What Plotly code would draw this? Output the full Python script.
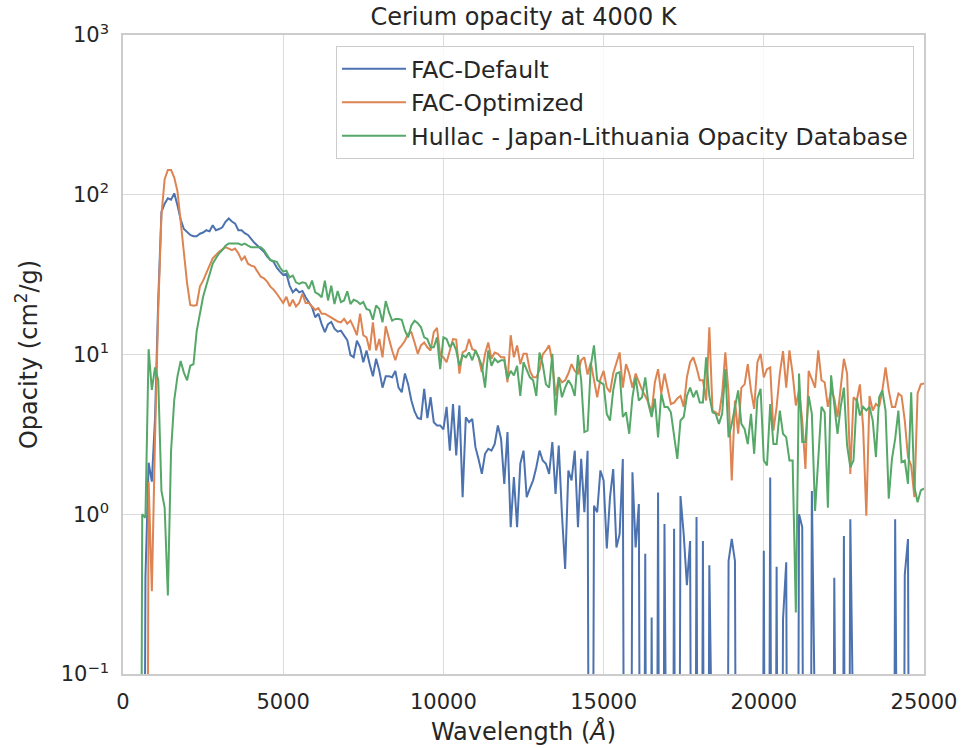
import plotly.graph_objects as go

# Bins where the opacity is zero; kept positive so the log axis can draw them
EMPTY = 1e-6

# Wavelength grid in Angstrom (500 to 25000, 100 A bins)
wavelength = list(range(500, 25001, 100))

fac_default = [
    EMPTY, EMPTY, 0.4, 2.1, 1.6,
    4, 22, 78, 88, 95, 93, 102, 86, 70, 61,
    58, 56, 55, 55, 57, 58, 60, 59, 64.5, 60,
    61, 62.5, 67.7, 71, 68, 66, 60, 60, 57.5, 56,
    53, 50, 48, 46, 44, 41, 39, 38, 35, 33,
    31.5, 32, 27, 24.5, 25.7, 24.5, 25, 22.8, 21.3, 19.8,
    17.1, 18, 15.5, 13.8, 15.5, 16, 14.5, 13.9, 14.1, 13.2,
    12.3, 9.9, 9.6, 12.2, 11.1, 8.95, 10.6, 8.7, 7.3, 9.4,
    7.9, 6.2, 7.3, 7.3, 7.2, 7.9, 6.2, 5.8, 7.6, 6.5,
    5.15, 4.4, 4.0, 3.95, 6.1, 4.0, 5.4, 3.77, 3.6, 3.6,
    3.4, 4.7, 2.5, 4.9, 2.33, 4.8, 1.28, 4.05, 3.77, 3.95,
    2.63, 2.2, 1.79, 2.39, 2.57, 2.5, 2.75, 3.6, 2.96, 1.55,
    3.27, 0.83, 1.71, 0.83, 2.07, 2.5, 1.28, 1.45, 1.63, 1.97,
    2.5, 2.17, 2.07, 1.79, 2.83, 1.34, 2.69, 1.0, 0.455, 1.88,
    1.63, 2.5, 0.83, 2.22, 1.03, 2.5, EMPTY, 1.13, 1.03, 1.88,
    1.63, 0.61, 1.28, 1.92, 0.62, 0.75, 2.22, EMPTY, EMPTY, 1.83,
    0.62, 1.16, EMPTY, 0.565, EMPTY, 0.226, EMPTY, 1.37, EMPTY, 0.87,
    EMPTY, EMPTY, 0.81, EMPTY, 1.3, 0.75, 0.36, 0.68, EMPTY, 0.96,
    EMPTY, 0.68, EMPTY, 0.48, EMPTY, EMPTY, EMPTY, EMPTY, EMPTY, 0.51,
    0.70, 0.51, EMPTY, EMPTY, EMPTY, EMPTY, EMPTY, EMPTY, EMPTY, EMPTY,
    0.59, EMPTY, 1.7, EMPTY, 0.47, EMPTY, 0.22, 0.5, EMPTY, EMPTY,
    EMPTY, 1.0, 0.83, EMPTY, EMPTY, 1.4, EMPTY, EMPTY, EMPTY, EMPTY,
    EMPTY, EMPTY, 0.40, EMPTY, EMPTY, 0.73, EMPTY, 0.93, EMPTY, EMPTY,
    EMPTY, EMPTY, EMPTY, EMPTY, EMPTY, EMPTY, EMPTY, EMPTY, EMPTY, EMPTY,
    EMPTY, 0.93, EMPTY, EMPTY, 0.42, 0.70, EMPTY, EMPTY, EMPTY, EMPTY,
    EMPTY,
]

fac_optimized = [
    EMPTY, EMPTY, EMPTY, 1.6, 0.33,
    3, 19, 75, 125, 143, 143, 128, 105, 68, 42,
    28, 20.4, 20.2, 20.4, 26.6, 29, 32, 36, 40, 42,
    44, 45.5, 47, 46, 45, 46, 43, 39, 41, 37,
    36, 35.5, 33, 30.7, 30, 28.6, 26.6, 25.5, 24, 22.5,
    21, 23, 20, 22, 20, 21, 24, 21, 21, 20,
    19, 19.5, 18, 18, 17.5, 17, 16.5, 16.1, 15.9, 16.7,
    15.6, 16.3, 14.8, 13.2, 18, 13.2, 12.8, 10.6, 15.9, 10.6,
    12.5, 9.6, 15, 12.5, 10.6, 9.2, 10.8, 11.4, 12.2, 13.5,
    13.8, 11.9, 10.1, 11.4, 11.9, 11.1, 10.6, 13.8, 14.7, 9.9,
    9.6, 8.95, 10.8, 12.5, 12.4, 7.6, 10.3, 10.6, 12.5, 10.8,
    10.6, 9.6, 7.75, 10.1, 11.9, 9.4, 10.3, 10.1, 9.6, 9.6,
    6.7, 13.2, 9.6, 11.4, 8.7, 10.1, 10.1, 7.9, 7.2, 7.2,
    8.0, 10, 10.6, 11.4, 9, 5.5, 7.2, 6.7, 6.9, 7.6,
    8.7, 7.9, 7.6, 9.2, 9.6, 7.5, 8.9, 6.9, 5.4, 7.0,
    7.9, 6.2, 5.8, 7.6, 8.95, 10.3, 6.2, 8.7, 7.6, 6.2,
    7.6, 6.7, 6.0, 5.5, 5.0, 4.35, 6.7, 8.1, 5.7, 7.6,
    5.96, 4.9, 5.0, 5.3, 5.5, 4.7, 7.2, 8.95, 9.6, 8.3,
    6.9, 6.9, 5.15, 14.8, 4.46, 4.35, 4.15, 5.7, 10.3, 5.7,
    1.63, 5.15, 3.19, 6.2, 6.5, 8.7, 5.96, 4.57, 8.95, 10.1,
    7.2, 8.1, 8.3, 3.34, 4.7, 7.6, 10.5, 6.2, 10.6, 7.6,
    4.8, 5.96, 3.86, 1.92, 7.9, 6.9, 6.2, 10.6, 6.9, 6.7,
    4.7, 5.96, 5.3, 4.06, 6.1, 9.4, 7.6, 1.79, 5.4, 5.15,
    6.5, 3.5, 0.98, 5.5, 4.46, 4.9, 4.7, 5.96, 8.3, 5.96,
    4.7, 4.7, 5.7, 5.5, 3.86, 2.28, 2.02, 1.28, 5.7, 6.5,
    6.6,
]

hullac = [
    EMPTY, 1.0, 0.95, 10.8, 6.0,
    8.3, 6.9, 1.4, 1.1, 0.31, 2.5, 5.2, 7.3, 9.1, 7.7,
    6.9, 8.5, 8.7, 14, 18, 23, 27, 32, 37, 40,
    43, 45, 48, 49.5, 49.5, 49.5, 49.5, 48.5, 49.5, 48,
    47, 47, 47, 47, 45, 42, 39, 38.5, 38, 35,
    33, 33.5, 30.4, 31.2, 28.3, 27.7, 28.3, 28, 25.7, 29,
    24.5, 23.9, 22.8, 29, 21.8, 27, 20.7, 25, 21.3, 21.8,
    24.9, 20.7, 22, 21.6, 20.7, 21.3, 19.3, 18.9, 16.5, 20.3,
    19.3, 15.9, 21.6, 18.4, 16.3, 16.7, 16.7, 16.5, 14.1, 12.8,
    15.2, 16.3, 15.7, 14.8, 12.8, 12.5, 11.1, 11.1, 12.8, 8.1,
    12.8, 12.5, 11.1, 11.9, 10.6, 8.5, 9.9, 9.6, 10.3, 9.2,
    10.6, 9.6, 8.5, 6.2, 10.6, 8.5, 9.4, 8.95, 9.2, 9.2,
    7.05, 7.9, 7.4, 8.5, 5.5, 8.95, 8.0, 7.2, 6.9, 5.5,
    10.3, 8.7, 6.5, 6.2, 10.1, 4.15, 7.2, 5.4, 6.2, 6.9,
    6.4, 5.5, 9.9, 6.9, 3.27, 3.34, 8.5, 11.4, 6.9, 6.7,
    6.5, 4.25, 3.86, 5.96, 7.6, 7.75, 4.06, 4.35, 3.19, 5.4,
    7.2, 5.15, 5.4, 7.2, 4.9, 4.06, 5.3, 3.03, 5.7, 4.7,
    4.7, 4.35, 3.03, 2.22, 3.86, 4.06, 5.5, 6.2, 5.4, 5.96,
    5.0, 5.0, 9.6, 5.5, 4.35, 4.25, 3.68, 4.25, 8.1, 3.03,
    3.68, 4.7, 5.96, 3.68, 3.42, 2.75, 4.25, 2.39, 5.3, 6.1,
    2.17, 2.02, 4.9, 2.75, 2.75, 4.46, 3.19, 3.03, 2.17, 2.17,
    0.243, 7.6, 2.83, 2.83, 5.5, 4.25, 1.05, 2.22, 4.7, 4.35,
    1.1, 7.4, 4.9, 3.19, 4.7, 6.2, 2.69, 1.97, 2.17, 5.3,
    4.15, 4.7, 4.46, 4.7, 3.86, 2.28, 5.4, 5.96, 4.46, 1.25,
    2.22, 2.96, 4.46, 2.12, 2.17, 1.55, 5.8, 1.48, 1.19, 1.41,
    1.45,
]

series_names = ["FAC-Default", "FAC-Optimized", "Hullac - Japan-Lithuania Opacity Database"]
series_values = [fac_default, fac_optimized, hullac]
series_colors = ["#4c72b0", "#dd8452", "#55a868"]

x_ticks = [0, 5000, 10000, 15000, 20000, 25000]
x_tick_labels = ["0", "5000", "10000", "15000", "20000", "25000"]
y_ticks = [0.1, 1, 10, 100, 1000]
y_tick_labels = ["10<sup>\u22121</sup>", "10<sup>0</sup>", "10<sup>1</sup>",
                 "10<sup>2</sup>", "10<sup>3</sup>"]

fig = go.Figure()
for name, values, color in zip(series_names, series_values, series_colors):
    fig.add_trace(go.Scatter(
        x=wavelength, y=values, mode="lines", name=name,
        line=dict(color=color, width=2),
    ))

text_color = "#262626"
grid_color = "#dcdcdc"
frame_color = "#cccccc"

fig.update_layout(
    width=978, height=748,
    margin=dict(l=123, r=54, t=35, b=74),
    paper_bgcolor="white", plot_bgcolor="white",
    font=dict(family="DejaVu Sans", size=21, color=text_color),
    title=dict(text="Cerium opacity at 4000 K", x=(123 + 924) / 2 / 978, xanchor="center",
               y=1 - 17 / 748, yref="container", yanchor="middle",
               font=dict(size=24, color=text_color)),
    legend=dict(x=0.9875, y=0.983, xanchor="right", yanchor="top",
                bgcolor="rgba(255,255,255,0.8)", bordercolor=frame_color, borderwidth=1,
                itemwidth=64,
                font=dict(size=23.5, color=text_color)),
    showlegend=True,
)

fig.update_xaxes(
    range=[0, 25000], tickmode="array", tickvals=x_ticks, ticktext=x_tick_labels,
    showgrid=True, gridcolor=grid_color, gridwidth=1,
    showline=True, linecolor=frame_color, linewidth=1.5, mirror=True, zeroline=False,
    ticks="outside", ticklen=8, tickcolor="rgba(0,0,0,0)",
    tickfont=dict(size=21, color=text_color),
    title=dict(text="Wavelength (<i>Å</i>)", font=dict(size=24, color=text_color), standoff=10),
    automargin=False,
)
fig.update_yaxes(
    type="log", range=[-1, 3], tickmode="array", tickvals=y_ticks, ticktext=y_tick_labels,
    showgrid=True, gridcolor=grid_color, gridwidth=1,
    showline=True, linecolor=frame_color, linewidth=1.5, mirror=True, zeroline=False,
    ticks="outside", ticklen=8, tickcolor="rgba(0,0,0,0)",
    tickfont=dict(size=21, color=text_color),
    title=dict(text="Opacity (cm<sup>2</sup>/g)", font=dict(size=24, color=text_color), standoff=16),
    automargin=False,
)

fig.write_html("out.html")
